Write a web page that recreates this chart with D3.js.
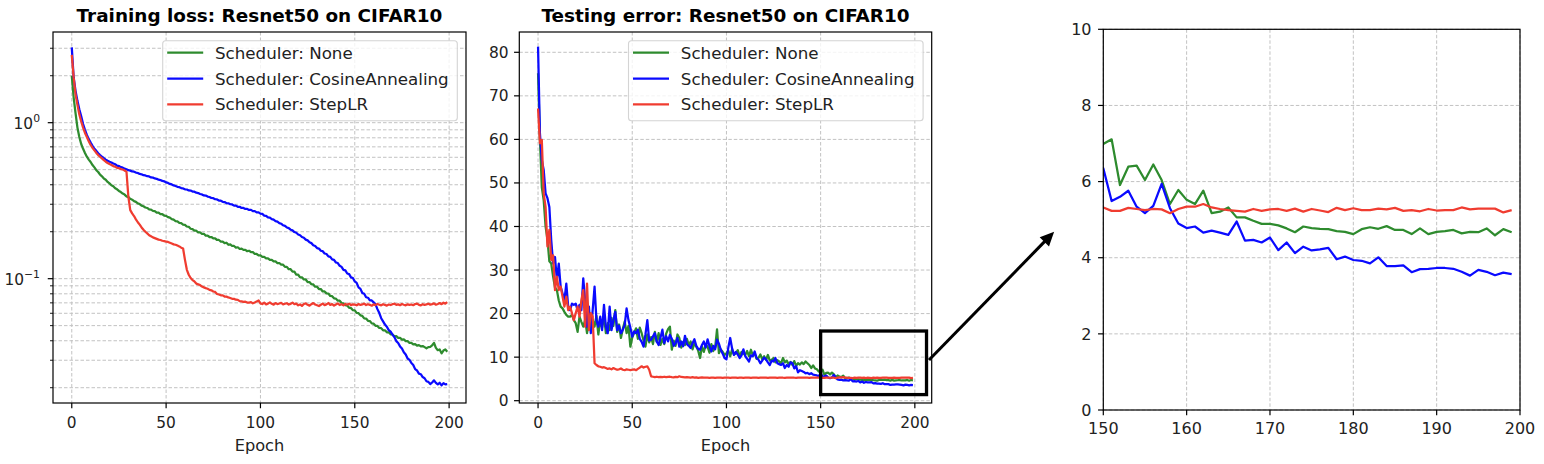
<!DOCTYPE html>
<html><head><meta charset="utf-8">
<script src="https://cdn.jsdelivr.net/npm/d3@7/dist/d3.min.js"></script>
<style>
html,body{margin:0;padding:0;background:#fff;}
svg{display:block;font-family:"DejaVu Sans",sans-serif;}
</style></head>
<body>
<svg id="chart" width="1544" height="464"></svg>
<script>
// ---------------- DATA ----------------
const seriesNames = ["Scheduler: None", "Scheduler: CosineAnnealing", "Scheduler: StepLR"];
const seriesColors = ["#2e8b2e", "#0a0aff", "#f03c30"];

const trainNone = [
2.0,1.45,1.15,0.93,0.81,0.73,0.68,0.64,0.605,0.58,
0.56,0.535,0.517,0.496,0.483,0.464,0.453,0.439,0.431,0.417,
0.408,0.397,0.391,0.380,0.374,0.365,0.359,0.351,0.346,0.337,
0.333,0.325,0.321,0.314,0.311,0.304,0.301,0.294,0.291,0.286,
0.284,0.278,0.277,0.272,0.271,0.265,0.265,0.259,0.259,0.254,
0.253,0.248,0.246,0.241,0.239,0.234,0.233,0.228,0.227,0.222,
0.221,0.216,0.215,0.209,0.208,0.203,0.203,0.198,0.198,0.194,
0.194,0.189,0.189,0.185,0.185,0.181,0.181,0.177,0.177,0.173,
0.173,0.169,0.170,0.165,0.166,0.162,0.162,0.158,0.159,0.155,
0.156,0.153,0.153,0.150,0.151,0.148,0.148,0.144,0.144,0.141,
0.141,0.138,0.138,0.135,0.135,0.132,0.132,0.129,0.129,0.126,
0.126,0.123,0.123,0.119,0.119,0.115,0.115,0.111,0.111,0.106,
0.106,0.102,0.102,0.0988,0.0988,0.0952,0.0952,0.0922,0.0918,0.0888,
0.0888,0.0858,0.0858,0.0828,0.0828,0.0805,0.0803,0.0775,0.0772,0.0748,
0.0745,0.0722,0.0722,0.0698,0.0695,0.0676,0.0672,0.0652,0.0648,0.0628,
0.0626,0.0604,0.0601,0.0582,0.0577,0.0557,0.0555,0.0537,0.0535,0.0517,
0.0515,0.0499,0.0498,0.0483,0.0482,0.0467,0.0467,0.0453,0.0453,0.0440,
0.0439,0.0427,0.0428,0.0417,0.0418,0.0407,0.0408,0.0398,0.0398,0.0388,
0.0388,0.0379,0.0381,0.0372,0.0375,0.0368,0.0370,0.0364,0.0358,0.0364,
0.0366,0.0374,0.0387,0.0360,0.0348,0.0352,0.0332,0.0346,0.0352,0.0340];

const trainCosine = [
3.04,1.95,1.6,1.38,1.22,1.1,0.98,0.9,0.835,0.785,
0.745,0.71,0.68,0.66,0.637,0.62,0.605,0.592,0.58,0.57,
0.562,0.556,0.547,0.541,0.531,0.527,0.519,0.515,0.507,0.503,
0.496,0.493,0.487,0.485,0.479,0.476,0.469,0.467,0.461,0.459,
0.454,0.452,0.446,0.445,0.439,0.437,0.431,0.429,0.423,0.421,
0.414,0.411,0.405,0.402,0.396,0.393,0.388,0.386,0.381,0.379,
0.374,0.373,0.368,0.367,0.362,0.361,0.356,0.354,0.349,0.347,
0.342,0.341,0.336,0.334,0.329,0.328,0.323,0.322,0.317,0.316,
0.311,0.310,0.305,0.304,0.300,0.299,0.294,0.294,0.289,0.289,
0.284,0.284,0.280,0.280,0.276,0.276,0.271,0.271,0.266,0.266,
0.261,0.260,0.254,0.253,0.247,0.246,0.241,0.239,0.234,0.232,
0.227,0.225,0.220,0.218,0.213,0.211,0.206,0.204,0.199,0.197,
0.192,0.190,0.185,0.183,0.178,0.176,0.171,0.169,0.164,0.162,
0.157,0.156,0.151,0.150,0.145,0.144,0.139,0.138,0.133,0.132,
0.127,0.126,0.121,0.119,0.114,0.113,0.108,0.107,0.102,0.101,
0.096,0.094,0.088,0.086,0.081,0.080,0.076,0.0755,0.0725,0.0725,
0.0705,0.0685,0.0638,0.0602,0.0558,0.0532,0.0508,0.0492,0.0468,0.0457,
0.0438,0.0422,0.0398,0.0387,0.0368,0.0357,0.0338,0.0327,0.0308,0.0302,
0.0288,0.0280,0.0263,0.0258,0.0246,0.0244,0.0234,0.0230,0.0220,0.0218,
0.0211,0.0216,0.0223,0.0215,0.0210,0.0215,0.0207,0.0214,0.0210,0.0211];

const trainStep = [
2.72,1.95,1.52,1.3,1.13,1.02,0.93,0.86,0.81,0.76,
0.72,0.69,0.665,0.64,0.62,0.605,0.59,0.575,0.562,0.552,
0.543,0.536,0.527,0.522,0.514,0.511,0.504,0.501,0.494,0.485,
0.335,0.275,0.262,0.252,0.240,0.230,0.222,0.213,0.206,0.200,
0.195,0.190,0.187,0.184,0.182,0.180,0.178,0.177,0.175,0.174,
0.173,0.172,0.170,0.168,0.166,0.165,0.163,0.161,0.158,0.156,
0.132,0.114,0.106,0.101,0.098,0.096,0.093,0.092,0.091,0.089,
0.088,0.087,0.0862,0.0848,0.0842,0.0828,0.0822,0.0798,0.0792,0.0783,
0.0782,0.0768,0.0767,0.0758,0.0752,0.0743,0.0742,0.0733,0.0732,0.0718,
0.0716,0.0710,0.0712,0.0703,0.0703,0.0708,0.0695,0.0703,0.0715,0.0725,
0.0695,0.0688,0.0702,0.0684,0.0692,0.0705,0.0690,0.0682,0.0698,0.0687,
0.0693,0.0700,0.0685,0.0691,0.0696,0.0683,0.0689,0.0702,0.0686,0.0692,
0.0675,0.0684,0.0669,0.0688,0.0694,0.0680,0.0672,0.0686,0.0698,0.0683,
0.0676,0.0668,0.0681,0.0692,0.0677,0.0684,0.0698,0.0679,0.0687,0.0672,
0.0683,0.0695,0.0678,0.0686,0.0674,0.0689,0.0681,0.0692,0.0677,0.0685,
0.0682,0.0675,0.0688,0.0679,0.0684,0.0693,0.0678,0.0686,0.0680,0.0671,
0.0684,0.0677,0.0689,0.0681,0.0675,0.0686,0.0679,0.0672,0.0683,0.0678,
0.0686,0.0691,0.0680,0.0684,0.0676,0.0688,0.0681,0.0675,0.0685,0.0679,
0.0683,0.0676,0.0688,0.0692,0.0680,0.0674,0.0686,0.0679,0.0684,0.0691,
0.0682,0.0687,0.0694,0.0681,0.0689,0.0698,0.0686,0.0701,0.0692,0.0708];

const testNone = [
75.2,60,49,46,40,37,32,31.5,28.5,26,
25.4,23,21.6,21.2,20.4,19.7,19.3,19.3,19.7,18.5,
17.8,15.8,19.3,18.1,17,18.5,15.5,18.5,17.4,18.5,
17,19.5,15.2,18.4,16.8,19.6,15.5,17.8,16.2,19,
17.2,20.8,15.8,17.5,14.4,16.5,18.2,15.5,17.2,12.4,
14.5,15.6,16.6,14.2,16.8,15.5,13.8,12.4,15.2,13.4,
14.6,13,15.8,13.5,15.5,12.8,14.2,13,15.4,16.4,
17,11.7,13.8,12.6,15.2,14.4,12.2,13.5,12.8,14.2,
12.8,13.6,11.8,13.2,12.4,11.5,9.8,12.5,11.2,12.8,
12.4,11,13,11.4,12.2,16.4,10.9,11.8,11.2,10.5,
10.9,11.5,10.2,11.8,10.6,10.9,11.6,10.2,11.2,10.8,
10.5,11.4,10.2,11.7,10.4,10.8,9.6,9.8,10.6,9.5,
10.2,9.4,10.5,9.2,9.4,9.8,8.8,9.3,9,8.6,
9.8,8.8,9.2,8.4,8.9,8.2,9.1,8,8.6,8.3,
8.8,8.4,9,8.6,8.2,7.5,8.1,7.4,7.2,6.7,
6.99,7.11,5.91,6.39,6.42,6.04,6.45,6.04,5.41,5.78,
5.52,5.41,5.76,5.17,5.21,5.32,5.06,5.06,4.97,4.89,
4.89,4.85,4.77,4.67,4.82,4.78,4.76,4.75,4.70,4.68,
4.62,4.75,4.80,4.76,4.83,4.73,4.73,4.62,4.77,4.62,
4.68,4.70,4.73,4.64,4.68,4.67,4.77,4.59,4.75,4.67];

const testCosine = [
81.3,61.4,55.3,53,47.6,46.5,44.5,36.9,31.5,33,
27.7,31.5,26.2,24.6,23.1,26.9,21.6,20.8,22.3,22,
22.3,20.8,22,20.8,28.1,23.1,17,21.6,15.5,20.8,
26.2,18.5,17,19.3,16.2,22,17,15.5,21.6,16.2,
18.5,20.4,16.2,17.2,15.5,16.3,17.4,21.2,18.5,16.8,
14.7,15.9,15.5,16.3,14.2,13.5,12.4,15.2,18.5,13.8,
14,14.8,15.5,13.6,12.8,14.5,16.3,13.2,14.8,13.6,
15.1,14.2,12.6,13.2,14.4,12.4,13.6,12.5,14.9,13,
12.6,12.1,13.2,14.1,12.6,11.9,11.7,12.8,13.6,12.2,
14.1,12.5,11.3,12.6,11.8,14,13.1,11.7,10.8,9.8,
9.5,12.2,14.4,12,10.5,11.2,10.6,9.8,10.4,11.8,
10.2,9.6,9,10.4,10.2,11.3,9.8,9.4,8.6,9.2,
9.9,9.5,8.8,8.2,9.2,9,9.8,8.6,8.4,8.2,
8.6,7.5,8.2,7.8,8.8,8.6,7.4,7.9,6.5,7,
6.8,6.6,6.3,6.4,6.1,6.3,6,5.9,5.8,5.6,
6.35,5.49,5.60,5.76,5.34,5.17,5.36,5.94,5.30,4.90,
4.78,4.82,4.66,4.71,4.66,4.60,4.95,4.45,4.47,4.40,
4.53,4.20,4.40,4.12,4.29,4.19,4.22,4.26,3.96,4.03,
3.94,3.92,3.85,4.01,3.78,3.78,3.80,3.62,3.70,3.71,
3.73,3.73,3.71,3.63,3.53,3.68,3.63,3.54,3.61,3.57];

const testStep = [
67.1,59.1,59.9,47.6,44.5,35.4,39.2,32.3,33.4,25.4,
28.5,25.4,26.2,23.9,21.6,23.9,20.8,21.6,20.1,18.5,
20.1,21.6,19.3,23.1,25.4,17,26.9,16.2,20.1,19.3,
8.6,8.2,7.9,7.8,7.6,7.7,7.5,7.3,7.4,7.2,
7.5,7.3,7.1,7.2,7.4,7.1,7.0,7.2,7.1,7.0,
7.1,7.2,7.0,7.3,7.6,7.9,7.6,7.8,7.9,7.1,
5.6,5.5,5.4,5.5,5.4,5.45,5.4,5.5,5.4,5.45,
5.5,5.4,5.35,5.45,5.4,5.6,5.45,5.4,5.35,5.4,
5.35,5.3,5.4,5.3,5.35,5.25,5.3,5.35,5.3,5.28,
5.3,5.25,5.3,5.32,5.25,5.3,5.28,5.3,5.25,5.3,
5.28,5.3,5.25,5.3,5.27,5.32,5.26,5.3,5.28,5.25,
5.3,5.27,5.31,5.26,5.29,5.28,5.32,5.25,5.3,5.27,
5.29,5.3,5.26,5.31,5.28,5.27,5.3,5.25,5.29,5.31,
5.28,5.26,5.3,5.29,5.27,5.32,5.28,5.26,5.3,5.29,
5.27,5.3,5.28,5.31,5.26,5.29,5.3,5.27,5.28,5.3,
5.32,5.23,5.23,5.31,5.28,5.25,5.28,5.27,5.17,5.28,
5.34,5.34,5.41,5.32,5.28,5.25,5.23,5.21,5.28,5.23,
5.27,5.28,5.23,5.29,5.21,5.28,5.24,5.20,5.31,5.25,
5.30,5.25,5.25,5.29,5.27,5.31,5.23,5.25,5.22,5.28,
5.24,5.25,5.25,5.32,5.27,5.29,5.29,5.29,5.19,5.25];

const epochTicks = [0, 50, 100, 150, 200];
const lossMajorTicks = [0.1, 1];
const errorTicks = [0, 10, 20, 30, 40, 50, 60, 70, 80];
const zoomXTicks = [150, 160, 170, 180, 190, 200];
const zoomYTicks = [0, 2, 4, 6, 8, 10];
const titles = ["Training loss: Resnet50 on CIFAR10", "Testing error: Resnet50 on CIFAR10"];
const xLabel = "Epoch";
const zoomBox = {x0: 150, x1: 206.2, y0: 1.4, y1: 16};   // highlighted region in testing-error axes

// ---------------- LAYOUT ----------------
const FONT = '"DejaVu Sans", sans-serif';
const svg = d3.select("#chart");
svg.append("rect").attr("width",1544).attr("height",464).attr("fill","#fff");

const epochs = trainNone.map((_, i) => i);
const trainSeries = [trainNone, trainCosine, trainStep];
const testSeries = [testNone, testCosine, testStep];

const P1 = {x: 53, y: 32, w: 413, h: 371};
const P2 = {x: 519.3, y: 32, w: 412.4, h: 371};
const P3 = {x: 1103.3, y: 29.3, w: 416.7, h: 380.7};

const x1 = d3.scaleLinear().domain([-9.95, 208.95]).range([P1.x, P1.x + P1.w]);
const y1 = d3.scaleLog().domain([0.01596, 3.814]).range([P1.y + P1.h, P1.y]);
const x2 = d3.scaleLinear().domain([-9.95, 208.95]).range([P2.x, P2.x + P2.w]);
const y2 = d3.scaleLinear().domain([-0.53, 84.66]).range([P2.y + P2.h, P2.y]);
const x3 = d3.scaleLinear().domain([150, 200]).range([P3.x, P3.x + P3.w]);
const y3 = d3.scaleLinear().domain([0, 10]).range([P3.y + P3.h, P3.y]);

const defs = svg.append("defs");
function clip(id, P) {
  defs.append("clipPath").attr("id", id).append("rect")
    .attr("x", P.x).attr("y", P.y).attr("width", P.w).attr("height", P.h);
}
clip("c1", P1); clip("c2", P2); clip("c3", P3);

const GRID = {stroke: "#c2c2c2", w: 1.0, dash: "3.5,2"};
const TICK_FS = 15.4, LEG_FS = 16.7, TITLE_FS = 18.4, LABEL_FS = 16.2, ZOOM_FS = 16;

function gridV(g, xs, vals, P) {
  g.selectAll(null).data(vals.filter(v => xs(v) >= P.x - 0.5 && xs(v) <= P.x + P.w + 0.5)).enter().append("line")
    .attr("x1", d => xs(d)).attr("x2", d => xs(d)).attr("y1", P.y).attr("y2", P.y + P.h)
    .attr("stroke", GRID.stroke).attr("stroke-width", GRID.w).attr("stroke-dasharray", GRID.dash);
}
function gridH(g, ys, vals, P) {
  g.selectAll(null).data(vals).enter().append("line")
    .attr("y1", d => ys(d)).attr("y2", d => ys(d)).attr("x1", P.x).attr("x2", P.x + P.w)
    .attr("stroke", GRID.stroke).attr("stroke-width", GRID.w).attr("stroke-dasharray", GRID.dash);
}
function frame(g, P) {
  g.append("rect").attr("x", P.x).attr("y", P.y).attr("width", P.w).attr("height", P.h)
    .attr("fill", "none").attr("stroke", "#000").attr("stroke-width", 1.2);
}
function xAxis(g, xs, vals, P, fs, base) {
  g.selectAll(null).data(vals).enter().append("line")
    .attr("x1", d => xs(d)).attr("x2", d => xs(d)).attr("y1", P.y + P.h).attr("y2", P.y + P.h + 5.25)
    .attr("stroke", "#000").attr("stroke-width", 1.2);
  g.selectAll(null).data(vals).enter().append("text")
    .attr("x", d => xs(d)).attr("y", base).attr("text-anchor", "middle")
    .attr("font-size", fs).attr("fill", "#222").text(d => d);
}
function yAxis(g, ys, vals, P, fs, right) {
  g.selectAll(null).data(vals).enter().append("line")
    .attr("x1", P.x).attr("x2", P.x - 5.25).attr("y1", d => ys(d)).attr("y2", d => ys(d))
    .attr("stroke", "#000").attr("stroke-width", 1.2);
  g.selectAll(null).data(vals).enter().append("text")
    .attr("x", right).attr("y", d => ys(d)).attr("dy", "0.36em").attr("text-anchor", "end")
    .attr("font-size", fs).attr("fill", "#222").text(d => d);
}
function drawLines(g, xs, ys, series, clipId) {
  const gg = g.append("g").attr("clip-path", `url(#${clipId})`);
  series.forEach((s, k) => {
    const line = d3.line().x((d, i) => xs(epochs[i])).y(d => ys(d));
    gg.append("path").datum(s).attr("d", line).attr("fill", "none")
      .attr("stroke", seriesColors[k]).attr("stroke-width", 2.25)
      .attr("stroke-linejoin", "round").attr("stroke-linecap", "butt");
  });
}
function legend(g, bx, by) {
  const bw = 294.6, bh = 80;
  g.append("rect").attr("x", bx).attr("y", by).attr("width", bw).attr("height", bh)
    .attr("rx", 3).attr("fill", "#fff").attr("fill-opacity", 0.8)
    .attr("stroke", "#d4d4d4").attr("stroke-width", 1.1);
  seriesNames.forEach((n, k) => {
    const cy = by + 12 + k * 25.8;
    g.append("line").attr("x1", bx + 4.5).attr("x2", bx + 40.5).attr("y1", cy).attr("y2", cy)
      .attr("stroke", seriesColors[k]).attr("stroke-width", 2.25);
    g.append("text").attr("x", bx + 52.3).attr("y", cy).attr("dy", "0.36em")
      .attr("font-size", LEG_FS).attr("fill", "#222").text(n);
  });
}

// ---------- Panel 1: training loss (log) ----------
const g1 = svg.append("g").attr("font-family", FONT);
const minorLog = [];
[-2, -1, 0].forEach(e => { for (let k = 1; k <= 9; k++) { const v = k * Math.pow(10, e); if (v >= y1.domain()[0] && v <= y1.domain()[1]) minorLog.push(v); } });
gridV(g1, x1, epochTicks, P1);
gridH(g1, y1, minorLog, P1);
drawLines(g1, x1, y1, trainSeries, "c1");
frame(g1, P1);
xAxis(g1, x1, epochTicks, P1, TICK_FS, 427.7);
// minor y ticks
g1.selectAll(null).data(minorLog.filter(v => !lossMajorTicks.includes(v))).enter().append("line")
  .attr("x1", P1.x).attr("x2", P1.x - 3).attr("y1", d => y1(d)).attr("y2", d => y1(d))
  .attr("stroke", "#000").attr("stroke-width", 0.9);
g1.selectAll(null).data(lossMajorTicks).enter().append("line")
  .attr("x1", P1.x).attr("x2", P1.x - 5.25).attr("y1", d => y1(d)).attr("y2", d => y1(d))
  .attr("stroke", "#000").attr("stroke-width", 1.2);
const lt = g1.selectAll(null).data(lossMajorTicks).enter().append("text")
  .attr("x", 40).attr("y", d => y1(d) + 6.8).attr("text-anchor", "end")
  .attr("font-size", TICK_FS).attr("fill", "#222");
lt.append("tspan").text("10");
lt.append("tspan").attr("font-size", 10.8).attr("dy", -7).text(d => Math.log10(d) === 0 ? "0" : "\u2212" + Math.abs(Math.round(Math.log10(d))));
g1.append("text").attr("x", P1.x + P1.w / 2).attr("y", 451).attr("text-anchor", "middle")
  .attr("font-size", LABEL_FS).attr("fill", "#222").text(xLabel);
g1.append("text").attr("x", P1.x + P1.w / 2).attr("y", 22).attr("text-anchor", "middle")
  .attr("font-size", TITLE_FS).attr("font-weight", "bold").attr("fill", "#000").text(titles[0]);
legend(g1, 162.7, 40.7);

// ---------- Panel 2: testing error ----------
const g2 = svg.append("g").attr("font-family", FONT);
gridV(g2, x2, epochTicks, P2);
gridH(g2, y2, errorTicks, P2);
drawLines(g2, x2, y2, testSeries, "c2");
frame(g2, P2);
xAxis(g2, x2, epochTicks, P2, TICK_FS, 427.7);
yAxis(g2, y2, errorTicks, P2, TICK_FS, 508.5);
g2.append("text").attr("x", P2.x + P2.w / 2).attr("y", 451).attr("text-anchor", "middle")
  .attr("font-size", LABEL_FS).attr("fill", "#222").text(xLabel);
g2.append("text").attr("x", P2.x + P2.w / 2).attr("y", 22).attr("text-anchor", "middle")
  .attr("font-size", TITLE_FS).attr("font-weight", "bold").attr("fill", "#000").text(titles[1]);
legend(g2, 628.5, 40.7);
// highlight box
g2.append("rect").attr("x", x2(zoomBox.x0)).attr("y", y2(zoomBox.y1))
  .attr("width", x2(zoomBox.x1) - x2(zoomBox.x0)).attr("height", y2(zoomBox.y0) - y2(zoomBox.y1))
  .attr("fill", "none").attr("stroke", "#000").attr("stroke-width", 3.3);

// ---------- Panel 3: zoom ----------
const g3 = svg.append("g").attr("font-family", FONT);
gridV(g3, x3, zoomXTicks, P3);
gridH(g3, y3, zoomYTicks, P3);
drawLines(g3, x3, y3, testSeries, "c3");
frame(g3, P3);
xAxis(g3, x3, zoomXTicks, P3, ZOOM_FS, 433.5);
yAxis(g3, y3, zoomYTicks, P3, ZOOM_FS, 1091.5);

// ---------- Arrow ----------
const ax0 = x2(207.5), ay0 = y2(9.35), ax1 = x3(144.1), ay1 = y3(4.68);
const ang = Math.atan2(ay1 - ay0, ax1 - ax0);
const hl = 14, hw = 6.5;
const bxp = ax1 - hl * Math.cos(ang), byp = ay1 - hl * Math.sin(ang);
svg.append("line").attr("x1", ax0).attr("y1", ay0).attr("x2", bxp + 2 * Math.cos(ang)).attr("y2", byp + 2 * Math.sin(ang))
  .attr("stroke", "#000").attr("stroke-width", 3);
svg.append("polygon").attr("points", [
  [ax1, ay1],
  [bxp + hw * Math.sin(ang), byp - hw * Math.cos(ang)],
  [bxp - hw * Math.sin(ang), byp + hw * Math.cos(ang)]
].map(p => p.join(",")).join(" ")).attr("fill", "#000");
</script>
</body></html>
